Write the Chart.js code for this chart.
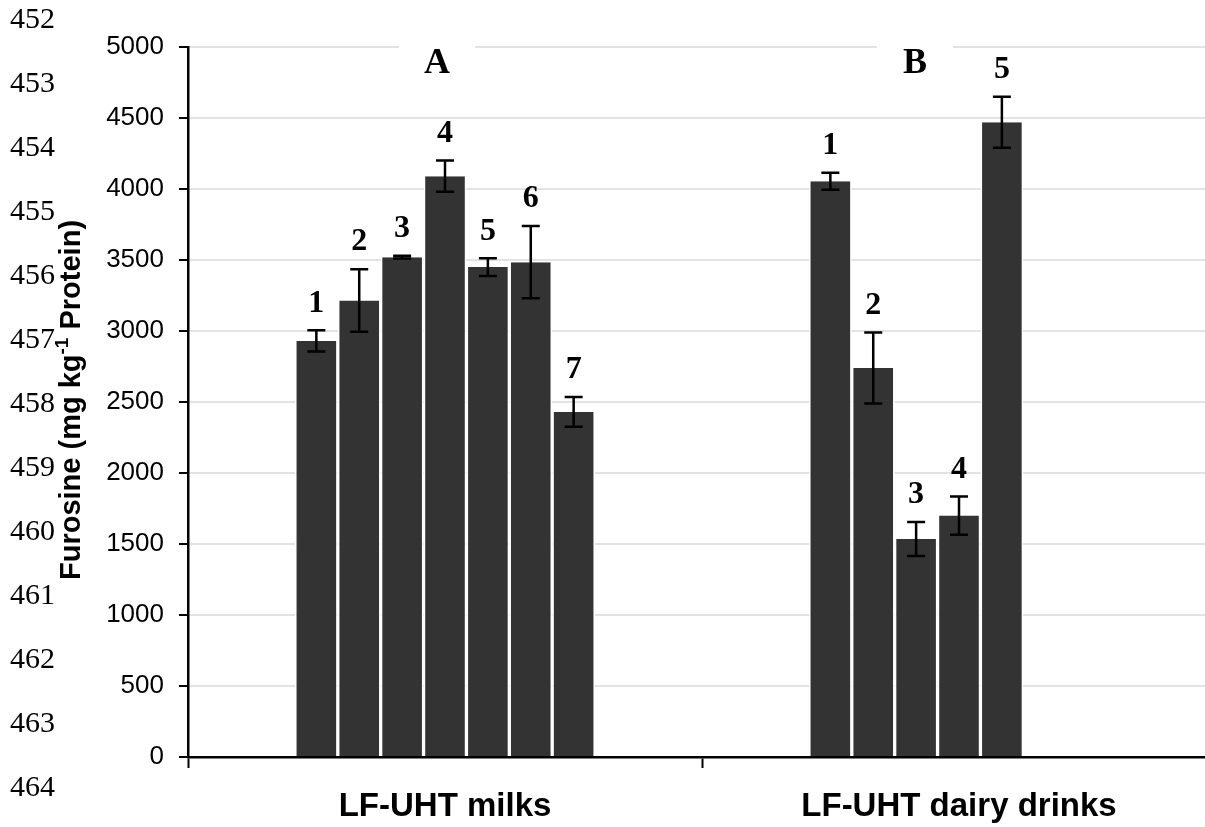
<!DOCTYPE html>
<html>
<head>
<meta charset="utf-8">
<script src="https://cdn.jsdelivr.net/npm/chart.js@4.4.0/dist/chart.umd.min.js"></script>
<style>
html,body{margin:0;padding:0;overflow:hidden;background:#fff;width:1205px;height:827px}
canvas{display:block}
</style>
</head>
<body>
<canvas id="c" width="1220" height="827"></canvas>
<script>
// ---- data ----
const categories = ['LF-UHT milks', 'LF-UHT dairy drinks'];
const sampleLabels = ['1', '2', '3', '4', '5', '6', '7'];
const milksValues = [2930, 3215, 3520, 4090, 3450, 3485, 2430];
const milksErrors = [75, 220, 10, 110, 62, 255, 105];
const drinksValues = [4055, 2740, 1535, 1700, 4470];
const drinksErrors = [60, 250, 120, 135, 180];
const panelLetters = ['A', 'B'];
const yMin = 0, yMax = 5000, yStep = 500;
const yTitleParts = ['Furosine (mg kg', '-1', ' Protein)'];
const lineNumbers = ['452','453','454','455','456','457','458','459','460','461','462','463','464'];

// ---- build datasets ----
const datasets = sampleLabels.map((lab, i) => ({
  label: lab,
  data: [milksValues[i] ?? null, drinksValues[i] ?? null],
  errors: [milksErrors[i] ?? null, drinksErrors[i] ?? null],
  backgroundColor: '#333333',
  borderColor: '#ffffff',
  borderWidth: {left: 1.65, right: 1.65, top: 0, bottom: 0},
  borderSkipped: 'start'
}));

const SANS = '"Liberation Sans", Arial, sans-serif';
const SERIF = '"Liberation Serif", "Times New Roman", serif';

const decor = {
  id: 'decor',
  beforeDraw(chart) {
    const ctx = chart.ctx;
    ctx.save();
    ctx.fillStyle = '#000';
    ctx.font = '30px ' + SERIF;
    ctx.textAlign = 'left';
    ctx.textBaseline = 'middle';
    lineNumbers.forEach((t, i) => ctx.fillText(t, 10, 20 + 64 * i));
    ctx.restore();
  },
  afterDatasetsDraw(chart) {
    const ctx = chart.ctx;
    const ys = chart.scales.y, xs = chart.scales.x;
    ctx.save();
    // error bars + sample numbers
    chart.data.datasets.forEach((ds, i) => {
      const meta = chart.getDatasetMeta(i);
      meta.data.forEach((bar, j) => {
        const v = ds.data[j];
        if (v == null) return;
        const e = ds.errors[j];
        const yt = ys.getPixelForValue(v + e);
        const yb = ys.getPixelForValue(v - e);
        ctx.strokeStyle = '#000';
        ctx.lineWidth = 2.5;
        ctx.beginPath();
        ctx.moveTo(bar.x, yt); ctx.lineTo(bar.x, yb);
        ctx.moveTo(bar.x - 9, yt); ctx.lineTo(bar.x + 9, yt);
        ctx.moveTo(bar.x - 9, yb); ctx.lineTo(bar.x + 9, yb);
        ctx.stroke();
        ctx.fillStyle = '#000';
        ctx.font = 'bold 32px ' + SERIF;
        ctx.textAlign = 'center';
        ctx.textBaseline = 'middle';
        ctx.fillText(ds.label, bar.x, yt - 27);
      });
    });
    // panel letters with white background
    const offs = [-8, -44];
    panelLetters.forEach((t, k) => {
      const cx = xs.getPixelForValue(k) + offs[k];
      ctx.fillStyle = '#fff';
      ctx.fillRect(cx - 38, 38, 76, 42);
      ctx.fillStyle = '#000';
      ctx.font = 'bold 36px ' + SERIF;
      ctx.textAlign = 'center';
      ctx.textBaseline = 'alphabetic';
      ctx.fillText(t, cx, 73);
    });
    ctx.restore();
  },
  afterDraw(chart) {
    const ctx = chart.ctx;
    ctx.save();
    ctx.translate(80, 400);
    ctx.rotate(-Math.PI / 2);
    ctx.fillStyle = '#000';
    ctx.textBaseline = 'alphabetic';
    ctx.textAlign = 'left';
    const fMain = 'bold 29px ' + SANS, fSup = 'bold 19px ' + SANS;
    ctx.font = fMain; const w1 = ctx.measureText(yTitleParts[0]).width;
    const w3 = ctx.measureText(yTitleParts[2]).width;
    ctx.font = fSup; const w2 = ctx.measureText(yTitleParts[1]).width;
    let x = -(w1 + w2 + w3) / 2;
    ctx.font = fMain; ctx.fillText(yTitleParts[0], x, 0); x += w1;
    ctx.font = fSup; ctx.fillText(yTitleParts[1], x, -12); x += w2;
    ctx.font = fMain; ctx.fillText(yTitleParts[2], x, 0);
    ctx.restore();
  }
};

new Chart(document.getElementById('c'), {
  type: 'bar',
  data: { labels: categories, datasets },
  options: {
    responsive: false,
    animation: false,
    layout: { padding: { top: 47, right: 4, left: 0, bottom: 0 } },
    plugins: { legend: { display: false }, tooltip: { enabled: false } },
    datasets: { bar: { categoryPercentage: 0.584, barPercentage: 1 } },
    scales: {
      x: {
        grid: { offset: true, drawOnChartArea: false, drawTicks: true, tickLength: 11, tickColor: '#000', tickWidth: 2 },
        border: { display: true, color: '#000', width: 2.5, z: 1 },
        ticks: { color: '#000', padding: 19, font: { family: SANS, size: 33, weight: 'bold' } },
        afterFit(s) { s.height = 70; }
      },
      y: {
        min: yMin, max: yMax,
        ticks: { stepSize: yStep, color: '#000', padding: 15, font: { family: SANS, size: 26 },
                 callback: (v) => String(v) },
        grid: { color: '#e3e3e3', lineWidth: 2, tickColor: '#000', tickWidth: 2, tickLength: 9 },
        border: { display: true, color: '#000', width: 2.5, z: 1 },
        afterFit(s) { s.width = 188; }
      }
    }
  },
  plugins: [decor]
});
</script>
</body>
</html>
